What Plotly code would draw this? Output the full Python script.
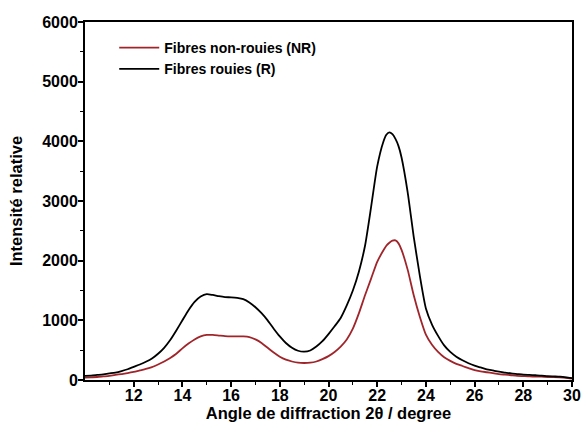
import plotly.graph_objects as go

angle = [10.0, 10.25, 10.5, 10.75, 11.0, 11.25, 11.5, 11.75, 12.0, 12.25, 12.5, 12.75,
         13.0, 13.25, 13.5, 13.75, 14.0, 14.25, 14.5, 14.75, 15.0, 15.25, 15.5, 15.75,
         16.0, 16.25, 16.5, 16.75, 17.0, 17.25, 17.5, 17.75, 18.0, 18.25, 18.5, 18.75,
         19.0, 19.25, 19.5, 19.75, 20.0, 20.25, 20.5, 20.75, 21.0, 21.25, 21.5, 21.75,
         22.0, 22.25, 22.375, 22.5, 22.625, 22.75, 22.875, 23.0, 23.25, 23.5, 23.75,
         24.0, 24.25, 24.5, 24.75,
         25.0, 25.25, 25.5, 25.75, 26.0, 26.25, 26.5, 26.75, 27.0, 27.25, 27.5, 27.75,
         28.0, 28.25, 28.5, 28.75, 29.0, 29.25, 29.5, 29.75, 30.0]

rouies = [70, 75, 85, 95, 110, 125, 150, 180, 220, 260, 305, 360,
          440, 540, 670, 830, 1000, 1170, 1310, 1400, 1440, 1425, 1405, 1390,
          1385, 1375, 1355, 1300, 1220, 1120, 1000, 860, 730, 620, 540, 490,
          475, 495, 560, 650, 770, 900, 1040, 1250, 1500, 1820, 2250, 2900,
          3580, 3990, 4110, 4150, 4120, 4040, 3920, 3730, 3150, 2400, 1750,
          1200, 930, 740, 580,
          470, 390, 330, 280, 240, 210, 180, 160, 140, 125, 110, 100,
          90, 85, 80, 75, 65, 60, 55, 45, 30]

non_rouies = [40, 45, 50, 60, 70, 85, 100, 115, 135, 160, 185, 215,
              260, 310, 370, 440, 530, 610, 680, 730, 755, 755, 745, 735,
              730, 730, 730, 720, 680, 620, 540, 460, 390, 340, 310, 290,
              285, 290, 310, 350, 400, 470, 560, 680, 860, 1120, 1420, 1700,
              1980, 2170, 2250, 2300, 2335, 2340, 2290, 2180, 1850, 1420, 1060,
              760, 590, 470, 380,
              320, 270, 235, 200, 165, 145, 130, 115, 100, 90, 80, 70,
              65, 60, 58, 55, 50, 48, 45, 38, 25]

x_ticks = [12, 14, 16, 18, 20, 22, 24, 26, 28, 30]

FONT = "Liberation Sans"

fig = go.Figure()
fig.add_trace(go.Scatter(x=angle, y=non_rouies, mode="lines", name="Fibres non-rouies (NR)",
                         line=dict(color="#a0252a", width=1.8, shape="spline", smoothing=0.6)))
fig.add_trace(go.Scatter(x=angle, y=rouies, mode="lines", name="Fibres rouies (R)",
                         line=dict(color="#000000", width=1.8, shape="spline", smoothing=0.6)))

fig.update_layout(
    width=581, height=428,
    margin=dict(l=85, r=9, t=22, b=48, autoexpand=False),
    paper_bgcolor="white", plot_bgcolor="white",
    font=dict(family=FONT, size=14, color="black"),
    showlegend=True,
    legend=dict(x=0.06, y=0.972, xanchor="left", yanchor="top",
                bgcolor="rgba(0,0,0,0)",
                font=dict(family=FONT, size=14, color="black", weight="bold"),
                tracegroupgap=0, itemwidth=40),
)
fig.update_xaxes(
    range=[10, 30], tickmode="array", tickvals=x_ticks, automargin=False,
    ticks="outside", ticklen=5, tickwidth=1.5, tickcolor="black",
    ticklabelstandoff=-5,
    minor=dict(tickmode="linear", tick0=11, dtick=2, ticks="outside", ticklen=3,
               tickcolor="black", tickwidth=1.2),
    showline=True, linecolor="black", linewidth=2, mirror=True,
    showgrid=False, zeroline=False,
    tickfont=dict(family=FONT, size=16, color="black", weight="bold"),
    title=dict(text="Angle de diffraction 2θ / degree", standoff=3,
               font=dict(family=FONT, size=16.5, color="black", weight="bold")),
)
fig.update_yaxes(
    range=[0, 6000], dtick=1000, automargin=False,
    ticks="outside", ticklen=5, tickwidth=1.5, tickcolor="black",
    ticklabelstandoff=-3,
    minor=dict(dtick=500, ticks="outside", ticklen=3, tickcolor="black", tickwidth=1.2),
    showline=True, linecolor="black", linewidth=2, mirror=True,
    showgrid=False, zeroline=False,
    tickfont=dict(family=FONT, size=16, color="black", weight="bold"),
    title=dict(text="Intensité relative", standoff=15,
               font=dict(family=FONT, size=16.5, color="black", weight="bold")),
)

fig.write_html("out.html", config={"displayModeBar": False},
               post_script="document.body.style.margin='0';document.body.style.overflow='hidden';")
